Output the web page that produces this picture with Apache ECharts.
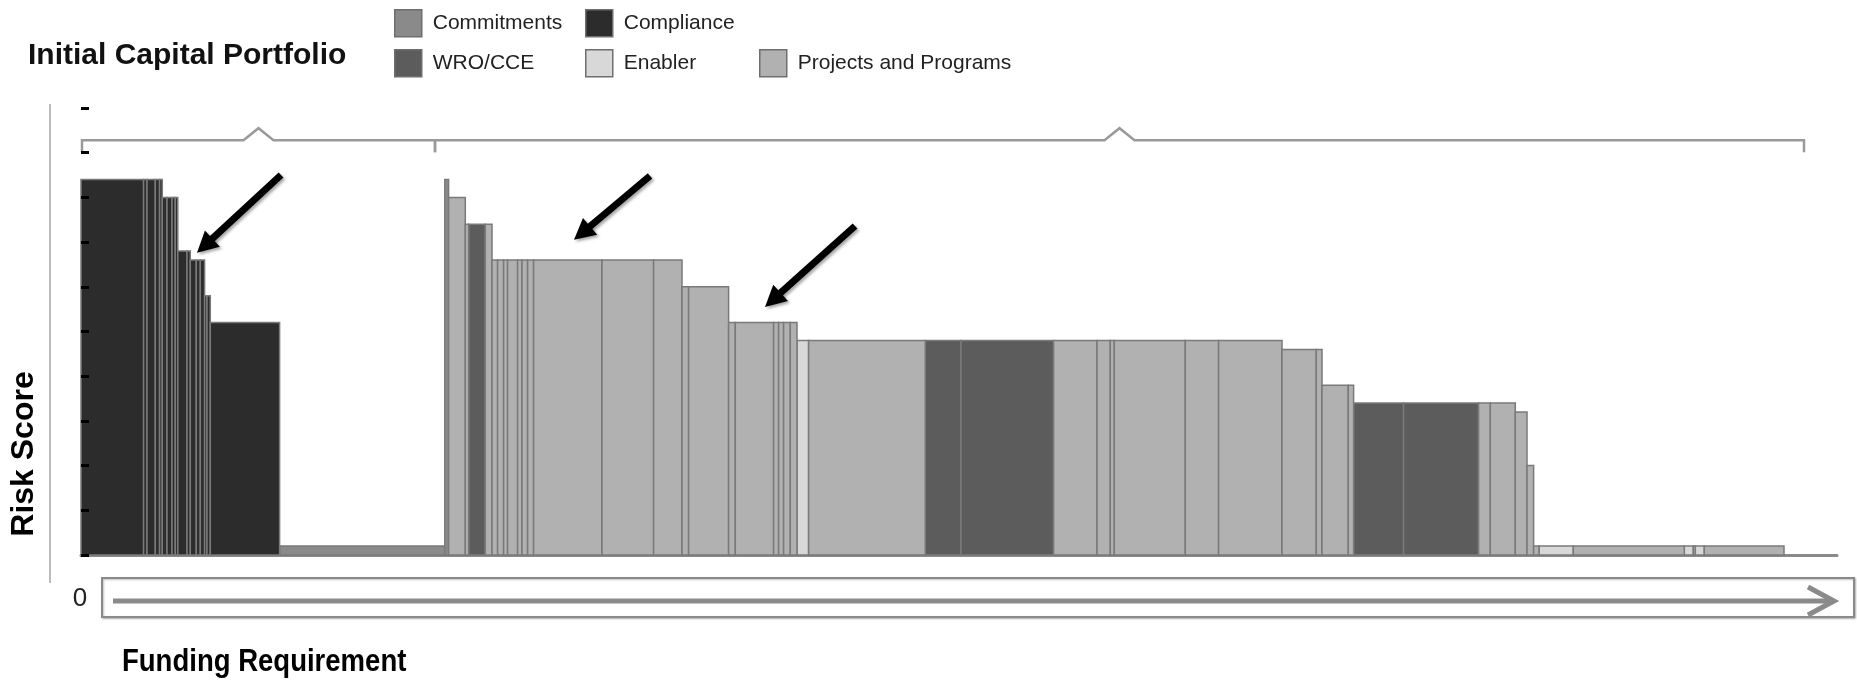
<!DOCTYPE html>
<html>
<head>
<meta charset="utf-8">
<script src="https://cdn.jsdelivr.net/npm/echarts@6/dist/echarts.min.js"></script>
<style>
  html, body { margin: 0; padding: 0; background: #ffffff; }
  #chart { width: 1857px; height: 683px; }
</style>
</head>
<body>
<div id="chart"></div>
<script>
// Portfolio categories and their fills
const categories = ['Commitments', 'Compliance', 'WRO/CCE', 'Enabler', 'Projects and Programs'];
const categoryColors = ['#8a8a8a', '#2c2c2c', '#5c5c5c', '#d8d8d8', '#b1b1b1'];

// One entry per project, in ranked order: funding requirement (bar width),
// risk score (bar height) and category index
const funding = [
  62.6, 3.4, 8.3, 4.3, 2.7, 4.7, 5.0, 3.3, 2.5, 9.2, 3.3, 6.0, 4.0, 4.3, 2.4, 3.3, 69.3,
  165.2,
  3.8, 16.7, 3.3, 16.7, 6.7, 5.6, 6.0, 4.0, 10.0, 4.4, 5.6, 6.0, 68.4, 51.6, 28.4,
  6.6, 40.0, 6.7, 38.3, 5.0, 5.0, 6.7, 6.7,
  11.6, 116.7, 35.7, 92.6, 43.4, 13.3, 4.0, 71.0, 33.3, 63.4,
  34.3, 5.7, 26.3, 5.3, 50.0, 75.0, 11.7, 25.0, 11.7, 6.6,
  5.4, 34.3, 111.0, 9.0, 2.0, 9.0, 79.7
];
const riskScore = [
  8.4, 8.4, 8.4, 8.4, 8.4, 8.0, 8.0, 8.0, 8.0, 6.8, 6.8, 6.6, 6.6, 6.6, 5.8, 5.8, 5.2,
  0.2,
  8.4, 8.0, 7.4, 7.4, 7.4, 6.6, 6.6, 6.6, 6.6, 6.6, 6.6, 6.6, 6.6, 6.6, 6.6,
  6.0, 6.0, 5.2, 5.2, 5.2, 5.2, 5.2, 5.2,
  4.8, 4.8, 4.8, 4.8, 4.8, 4.8, 4.8, 4.8, 4.8, 4.8,
  4.6, 4.6, 3.8, 3.8, 3.4, 3.4, 3.4, 3.4, 3.2, 2.0,
  0.2, 0.2, 0.2, 0.2, 0.2, 0.2, 0.2
];
const projectCategory = [
  1, 1, 1, 1, 1, 1, 1, 1, 1, 1, 1, 1, 1, 1, 1, 1, 1,
  0,
  0, 4, 4, 2, 4, 4, 4, 4, 4, 4, 4, 4, 4, 4, 4,
  4, 4, 4, 4, 4, 4, 4, 4,
  3, 4, 2, 2, 4, 4, 4, 4, 4, 4,
  4, 4, 4, 4, 2, 2, 4, 4, 4, 4,
  4, 3, 4, 3, 4, 3, 4
];

// Axis ranges
const fundingMax = 1756;
const riskMax = 10;
const fundingOriginLabel = '0';

// Braces grouping the portfolio (funding start, funding end) and their level
const braceRanges = [[1, 354], [354, 1723]];
const braceLevel = 9.28;

// Call-out arrows: tail (funding, risk) -> tip (funding, risk)
const calloutArrows = [
  [200, 8.50, 116, 6.76],
  [569, 8.48, 493, 7.05],
  [774, 7.36, 684, 5.55]
];

// Lay the bars end to end along the funding axis, split by category
const seriesData = categories.map(() => []);
let cursor = 0;
funding.forEach((w, i) => {
  seriesData[projectCategory[i]].push([cursor, cursor + w, riskScore[i]]);
  cursor += w;
});

function renderBar(params, api) {
  const topLeft = api.coord([api.value(0), api.value(2)]);
  const bottomRight = api.coord([api.value(1), 0]);
  return {
    type: 'rect',
    shape: {
      x: topLeft[0],
      y: topLeft[1],
      width: bottomRight[0] - topLeft[0],
      height: bottomRight[1] - topLeft[1]
    },
    style: { fill: api.visual('color'), stroke: '#7a7a7a', lineWidth: 1.5 }
  };
}

function renderBrace(params, api) {
  const a = api.coord([api.value(0), braceLevel]);
  const b = api.coord([api.value(1), braceLevel]);
  const y = a[1];
  const mid = (a[0] + b[0]) / 2;
  return {
    type: 'polyline',
    shape: {
      points: [[a[0], y + 12], [a[0], y], [mid - 15, y], [mid, y - 12], [mid + 15, y], [b[0], y], [b[0], y + 12]]
    },
    style: { stroke: '#9a9a9a', lineWidth: 2.5, fill: null }
  };
}

function renderArrow(params, api) {
  const t = api.coord([api.value(0), api.value(1)]);
  const h = api.coord([api.value(2), api.value(3)]);
  const dx = h[0] - t[0], dy = h[1] - t[1];
  const len = Math.hypot(dx, dy);
  const ux = dx / len, uy = dy / len;
  const headLen = 21, headHalf = 11;
  const base = [h[0] - ux * headLen, h[1] - uy * headLen];
  const shade = { shadowColor: 'rgba(0,0,0,0.35)', shadowBlur: 3, shadowOffsetX: 2, shadowOffsetY: 2 };
  return {
    type: 'group',
    children: [
      {
        type: 'line',
        shape: { x1: t[0], y1: t[1], x2: base[0] + ux * 2, y2: base[1] + uy * 2 },
        style: Object.assign({ stroke: '#000', lineWidth: 7 }, shade)
      },
      {
        type: 'polygon',
        shape: {
          points: [
            [h[0], h[1]],
            [base[0] - uy * headHalf, base[1] + ux * headHalf],
            [base[0] + uy * headHalf, base[1] - ux * headHalf]
          ]
        },
        style: Object.assign({ fill: '#000' }, shade)
      }
    ]
  };
}

const FONT = '"Liberation Sans", Arial, sans-serif';

const legendPlacement = [
  { left: 394, top: 9 },
  { left: 585, top: 9 },
  { left: 394, top: 49 },
  { left: 585, top: 49 },
  { left: 759, top: 49 }
];

const legends = categories.map((name, i) => ({
  show: true,
  selectedMode: false,
  orient: 'horizontal',
  left: legendPlacement[i].left,
  top: legendPlacement[i].top,
  padding: 0,
  itemWidth: 27,
  itemHeight: 27,
  icon: 'rect',
  data: [{
    name: name,
    itemStyle: { color: categoryColors[i], borderColor: '#6e6e6e', borderWidth: 1.5 }
  }],
  textStyle: { fontFamily: FONT, fontSize: 21, color: '#222', padding: [0, 0, 0, 6] }
}));

const barSeries = categories.map((name, i) => ({
  type: 'custom',
  name: name,
  renderItem: renderBar,
  data: seriesData[i],
  encode: { x: [0, 1], y: 2 },
  itemStyle: { color: categoryColors[i] },
  z: 2,
  silent: true
}));

const chart = echarts.init(document.getElementById('chart'), null, { renderer: 'canvas' });

chart.setOption({
  backgroundColor: '#ffffff',
  animation: false,
  title: {
    text: 'Initial Capital Portfolio',
    left: 28,
    top: 41,
    padding: 0,
    textStyle: { fontFamily: FONT, fontSize: 30, fontWeight: 'bold', color: '#111' }
  },
  legend: legends,
  grid: { left: 81, right: 20, top: 108, bottom: 128 },
  xAxis: {
    type: 'value',
    min: 0,
    max: fundingMax,
    axisLine: { show: true, lineStyle: { color: '#8a8a8a', width: 3 } },
    axisTick: { show: false },
    axisLabel: { show: false },
    splitLine: { show: false }
  },
  yAxis: {
    type: 'value',
    min: 0,
    max: riskMax,
    interval: 1,
    z: 10,
    axisLine: { show: false },
    axisTick: { show: true, inside: true, length: 8, lineStyle: { color: '#000', width: 3 } },
    axisLabel: { show: false },
    splitLine: { show: false }
  },
  series: barSeries.concat([
    {
      type: 'custom',
      name: 'braces',
      renderItem: renderBrace,
      data: braceRanges,
      encode: { x: [0, 1] },
      silent: true,
      z: 3
    },
    {
      type: 'custom',
      name: 'callouts',
      renderItem: renderArrow,
      data: calloutArrows,
      encode: { x: [0, 2], y: [1, 3] },
      silent: true,
      z: 5
    }
  ]),
  graphic: [
    // vertical risk axis rule
    { type: 'line', shape: { x1: 50, y1: 104, x2: 50, y2: 583 }, style: { stroke: '#a5a5a5', lineWidth: 1.5 } },
    {
      type: 'text', x: 24, y: 454, rotation: Math.PI / 2,
      style: { text: 'Risk Score', font: 'bold 32px ' + FONT, fill: '#000', align: 'center', verticalAlign: 'middle' }
    },
    {
      type: 'text', x: 80, y: 599,
      style: { text: fundingOriginLabel, font: '26px ' + FONT, fill: '#222', align: 'center', verticalAlign: 'middle' }
    },
    // funding direction arrow in its frame
    {
      type: 'rect', shape: { x: 102, y: 578, width: 1752, height: 39 },
      style: { fill: '#fff', stroke: '#8a8a8a', lineWidth: 2, shadowColor: 'rgba(0,0,0,0.25)', shadowBlur: 2, shadowOffsetX: 1, shadowOffsetY: 1 }
    },
    { type: 'line', shape: { x1: 113, y1: 601, x2: 1833, y2: 601 }, style: { stroke: '#8a8a8a', lineWidth: 5 } },
    {
      type: 'polyline', shape: { points: [[1808, 587], [1834, 601], [1808, 615]] },
      style: { stroke: '#8a8a8a', lineWidth: 5, fill: null }
    },
    {
      type: 'text', x: 122, y: 662, scaleX: 0.86,
      style: { text: 'Funding Requirement', font: 'bold 32px ' + FONT, fill: '#000', align: 'left', verticalAlign: 'middle' }
    }
  ]
});
</script>
</body>
</html>
